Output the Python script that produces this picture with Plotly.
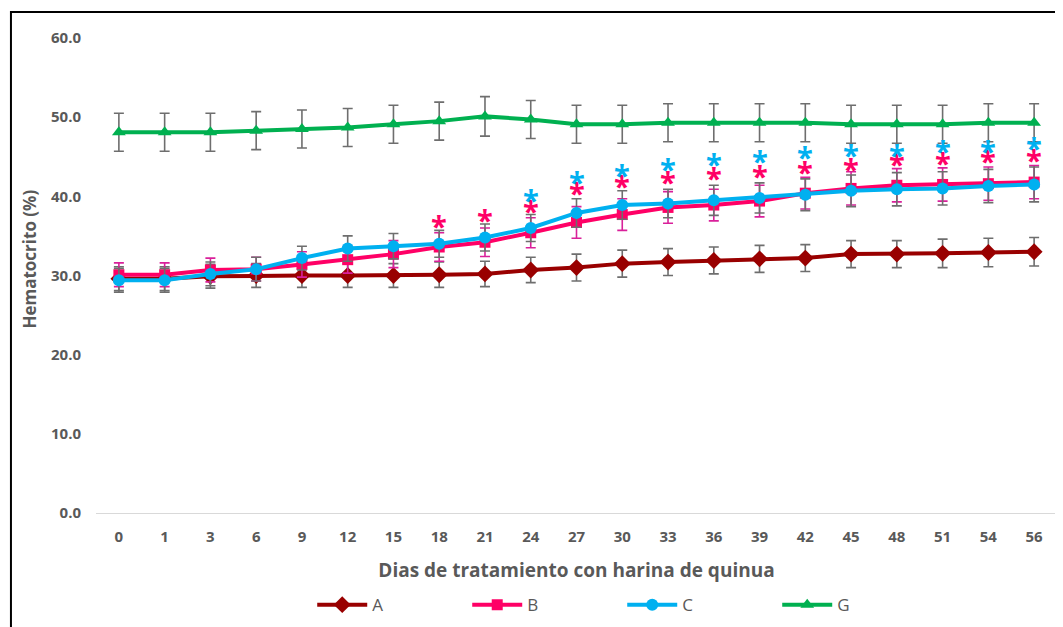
import plotly.graph_objects as go

days = ["0", "1", "3", "6", "9", "12", "15", "18", "21", "24", "27", "30",
        "33", "36", "39", "42", "45", "48", "51", "54", "56"]

A = [29.6, 29.6, 29.9, 30.0, 30.0, 30.0, 30.0, 30.1, 30.2, 30.7, 31.0, 31.5,
     31.7, 31.9, 32.1, 32.2, 32.7, 32.7, 32.8, 32.9, 33.0]
B = [30.1, 30.1, 30.7, 30.8, 31.4, 32.0, 32.7, 33.6, 34.2, 35.4, 36.7, 37.7,
     38.6, 38.9, 39.4, 40.4, 41.0, 41.4, 41.5, 41.6, 41.8]
C = [29.4, 29.4, 30.2, 30.8, 32.2, 33.4, 33.7, 34.0, 34.8, 36.0, 37.9, 38.9,
     39.1, 39.5, 39.8, 40.2, 40.7, 40.9, 41.0, 41.3, 41.5]
G = [48.1, 48.1, 48.1, 48.3, 48.5, 48.7, 49.1, 49.5, 50.1, 49.7, 49.1, 49.1,
     49.3, 49.3, 49.3, 49.3, 49.1, 49.1, 49.1, 49.3, 49.3]

A_err = [1.5, 1.5, 1.5, 1.5, 1.5, 1.5, 1.5, 1.6, 1.6, 1.6, 1.7, 1.7,
         1.7, 1.7, 1.7, 1.7, 1.7, 1.7, 1.8, 1.8, 1.8]
B_err = [1.5, 1.5, 1.5, 1.5, 1.6, 1.7, 1.7, 1.8, 1.8, 1.9, 2.0, 2.0,
         2.0, 2.0, 2.0, 2.0, 2.1, 2.1, 2.1, 2.1, 2.1]
C_err = [1.5, 1.5, 1.5, 1.5, 1.5, 1.6, 1.6, 1.7, 1.7, 1.7, 1.8, 1.8,
         1.8, 1.9, 1.9, 2.0, 2.0, 2.1, 2.1, 2.1, 2.2]
G_err = [2.4, 2.4, 2.4, 2.4, 2.4, 2.4, 2.4, 2.4, 2.5, 2.4, 2.4, 2.4,
         2.4, 2.4, 2.4, 2.4, 2.4, 2.4, 2.4, 2.4, 2.4]

# significance asterisks (positions)
sig_B_days = ["18", "21", "24", "27", "30", "33", "36", "39", "42", "45", "48", "51", "54", "56"]
sig_B_y = [36.7, 37.5, 38.6, 40.9, 41.7, 42.2, 42.8, 43.0, 43.5, 43.9, 44.5, 44.7, 44.9, 45.0]
sig_C_days = ["24", "27", "30", "33", "36", "39", "42", "45", "48", "51", "54", "56"]
sig_C_y = [40.0, 42.2, 43.2, 43.9, 44.5, 44.9, 45.4, 45.7, 45.7, 46.2, 46.2, 46.6]

y_ticks = [0, 10, 20, 30, 40, 50, 60]

COL_A = "#990000"
COL_B = "#FF0066"
COL_C = "#00B0F0"
COL_G = "#00B050"
ERR_GRAY = "#6E6E6E"
ERR_PINK = "#D9209A"
TXT = "#595959"
FONT = "Open Sans"

fig = go.Figure()

def add_series(name, y, err, color, symbol, size, errcol):
    fig.add_trace(go.Scatter(
        x=days, y=y, name=name, mode="lines+markers",
        line=dict(color=color, width=4),
        marker=dict(symbol=symbol, size=size, color=color),
        error_y=dict(type="data", array=err, visible=True,
                     color=errcol, thickness=1.6, width=5),
    ))

add_series("A", A, A_err, COL_A, "diamond", 13, ERR_GRAY)
add_series("B", B, B_err, COL_B, "square", 11, ERR_PINK)
add_series("C", C, C_err, COL_C, "circle", 12, ERR_GRAY)
add_series("G", G, G_err, COL_G, "triangle-up", 12, ERR_GRAY)

for d, v in zip(sig_B_days, sig_B_y):
    fig.add_annotation(x=days.index(d), y=v, text="<b>*</b>", showarrow=False, yshift=-3,
                       font=dict(family=FONT, size=29, color=COL_B))
for d, v in zip(sig_C_days, sig_C_y):
    fig.add_annotation(x=days.index(d), y=v, text="<b>*</b>", showarrow=False, yshift=-3,
                       font=dict(family=FONT, size=29, color=COL_C))

# y-axis title (placed as annotation to match the original offset)
fig.add_annotation(xref="paper", yref="paper", x=-0.069, y=0.535,
                   text="<b>Hematocrito (%)</b>", textangle=-90, showarrow=False,
                   xanchor="center", yanchor="middle",
                   font=dict(family=FONT, size=17, color=TXT))

# outer frame
fig.add_shape(type="rect", xref="paper", yref="paper",
              x0=-0.0885, x1=1.0031, y0=-0.3, y1=1.0547,
              line=dict(color="black", width=2), layer="below")

fig.update_layout(
    width=1063, height=627,
    margin=dict(l=88, r=14, t=30, b=122, autoexpand=False),
    paper_bgcolor="white", plot_bgcolor="white",
    font=dict(family=FONT, color=TXT),
    showlegend=True,
    legend=dict(orientation="h", x=0.225, xanchor="left", y=-0.156, yanchor="top",
                font=dict(size=17, color=TXT, family=FONT),
                entrywidth=90, entrywidthmode="pixels", itemwidth=50,
                traceorder="normal"),
    xaxis=dict(type="category", range=[-0.5, 20.5], showgrid=False, automargin=False,
               showline=True, linecolor="#D9D9D9", linewidth=1.2,
               ticks="", tickfont=dict(size=15, color=TXT, family=FONT, weight="bold"),
               ticklabelstandoff=10,
               title=dict(text="<b>Dias de tratamiento con harina de quinua</b>",
                          font=dict(size=19, color=TXT, family=FONT), standoff=18)),
    yaxis=dict(range=[0, 60], tickvals=y_ticks, tickformat=".1f", automargin=False,
               showgrid=False, zeroline=False, showline=False, ticks="",
               tickfont=dict(size=15, color=TXT, family=FONT, weight="bold"),
               ticklabelstandoff=14),
)

fig.write_html("out.html")
